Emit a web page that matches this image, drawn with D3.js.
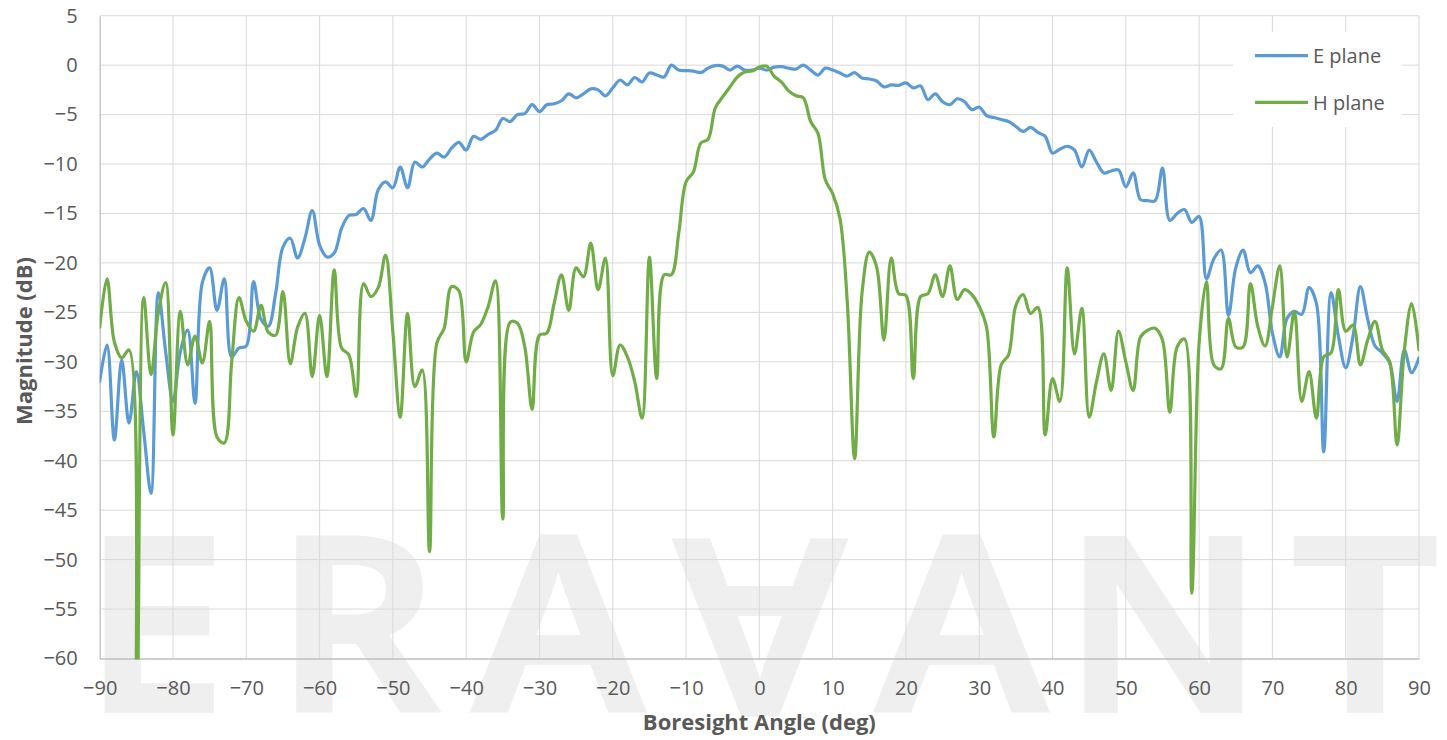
<!DOCTYPE html>
<html>
<head>
<meta charset="utf-8">
<script src="https://cdn.jsdelivr.net/npm/d3@7"></script>
<style>
  body { margin: 0; background: #fff; }
  svg { display: block; }
  text { font-family: 'Open Sans', 'DejaVu Sans', sans-serif; }
</style>
</head>
<body>
<svg class="pattern-chart"></svg>
<script>
// measured pattern, 1 deg steps from -90 to 90
const angles = d3.range(-90, 91, 1);

const ePlane = [
  -32.0, -28.3, -37.9, -29.8, -36.2, -31.0, -37.0, -43.3, -23.0, -29.0,
  -34.0, -29.0, -26.8, -34.2, -22.0, -20.5, -24.8, -21.6, -29.5, -28.6,
  -28.4, -21.9, -25.7, -26.4, -23.1, -18.4, -17.5, -19.5, -17.5, -14.7,
  -18.2, -19.4, -19.0, -16.5, -15.2, -15.1, -14.5, -15.7, -12.6, -11.8,
  -12.4, -10.3, -12.4, -9.8, -10.3, -9.5, -8.9, -9.3, -8.4, -7.8,
  -8.6, -7.2, -7.5, -7.0, -6.6, -5.4, -5.7, -5.0, -4.9, -4.0,
  -4.7, -4.0, -3.9, -3.6, -2.9, -3.3, -2.9, -2.4, -2.5, -3.1,
  -2.3, -1.5, -2.0, -1.25, -1.7, -0.8, -1.0, -1.2, 0.0, -0.5,
  -0.55, -0.6, -0.75, -0.3, -0.05, -0.1, -0.5, -0.1, -0.5, -0.5,
  -0.3, -0.5, -0.2, -0.15, -0.3, -0.4, 0.0, -0.5, -1.0, -0.3,
  -0.5, -0.8, -1.1, -0.75, -1.3, -1.4, -1.6, -2.2, -2.0, -2.05,
  -1.8, -2.3, -2.1, -3.5, -2.9, -3.7, -4.0, -3.4, -3.7, -4.5,
  -4.25, -5.1, -5.3, -5.5, -5.7, -6.2, -6.7, -6.3, -6.8, -7.2,
  -8.9, -8.5, -8.2, -8.6, -10.3, -8.6, -9.8, -10.9, -10.7, -10.6,
  -12.3, -10.9, -13.6, -13.7, -13.7, -10.4, -15.7, -15.0, -14.6, -15.9,
  -15.3, -21.6, -19.6, -18.7, -25.3, -20.5, -18.7, -21.0, -20.3, -22.0,
  -27.1, -29.5, -25.6, -24.9, -25.2, -22.5, -24.1, -39.1, -23.0, -27.4,
  -30.6, -27.4, -22.4, -25.7, -28.4, -29.1, -30.1, -34.0, -28.8, -31.1,
  -29.6
];

const hPlane = [
  -26.5, -21.6, -28.0, -29.6, -28.8, -70.0, -23.5, -31.3, -25.0, -22.0,
  -37.4, -24.9, -30.3, -27.4, -30.1, -25.9, -37.6, -38.2, -30.1, -23.5,
  -25.9, -26.9, -24.3, -27.0, -27.3, -22.9, -30.2, -26.5, -25.1, -31.5,
  -25.3, -31.5, -20.7, -28.6, -29.3, -33.5, -22.1, -23.4, -22.5, -19.2,
  -27.0, -35.6, -25.1, -32.5, -30.8, -49.2, -28.1, -26.6, -22.4, -22.8,
  -30.0, -27.0, -26.2, -24.4, -21.8, -45.9, -26.0, -26.1, -28.5, -34.8,
  -27.3, -27.1, -24.1, -21.2, -24.8, -20.5, -21.4, -18.0, -22.7, -19.5,
  -31.4, -28.3, -29.5, -32.0, -35.7, -19.4, -31.7, -21.2, -21.2, -17.0,
  -11.8, -10.8, -7.9, -7.5, -4.3, -3.2, -2.2, -1.2, -0.7, -0.6,
  -0.2, -0.1, -1.1, -1.7, -2.6, -3.1, -3.3, -5.7, -6.9, -11.6,
  -13.0, -15.5, -24.0, -39.8, -23.1, -18.9, -20.4, -27.8, -19.5, -23.1,
  -23.3, -31.7, -23.4, -23.1, -21.2, -23.4, -20.3, -23.7, -22.7, -23.2,
  -24.4, -26.5, -37.6, -30.3, -29.3, -24.3, -23.2, -25.1, -24.5, -37.4,
  -31.7, -34.0, -20.5, -29.2, -24.6, -35.6, -32.0, -29.2, -32.9, -26.9,
  -30.0, -32.9, -27.5, -26.8, -26.6, -27.8, -35.1, -28.5, -27.7, -53.4,
  -28.1, -21.9, -30.3, -30.7, -25.6, -28.5, -28.5, -22.1, -26.4, -28.4,
  -24.4, -20.3, -29.5, -24.9, -34.0, -31.0, -35.7, -29.5, -29.1, -22.7,
  -26.9, -26.3, -30.3, -27.8, -25.9, -28.8, -30.0, -38.4, -28.8, -24.1,
  -28.8
];

const xTicks = [-90, -80, -70, -60, -50, -40, -30, -20, -10, 0, 10, 20, 30, 40, 50, 60, 70, 80, 90];
const yTicks = [5, 0, -5, -10, -15, -20, -25, -30, -35, -40, -45, -50, -55, -60];
const seriesNames = ['E plane', 'H plane'];
const watermark = ['E', 'R', 'A', 'V', 'A', 'N', 'T'];

const dimensions = { width: 1447, height: 740 };
const margin = { top: 15.7, right: 28, bottom: 81.5, left: 99.7 };
const colors = { e: '#5b9bd5', h: '#70ad47', grid: '#d9d9d9', axis: '#bfbfbf', text: '#595959' };

const svg = d3.select('.pattern-chart')
  .attr('width', dimensions.width)
  .attr('height', dimensions.height);

const x = d3.scaleLinear()
  .domain([-90, 90])
  .range([margin.left, dimensions.width - margin.right]);

const y = d3.scaleLinear()
  .domain([-60, 5])
  .range([dimensions.height - margin.bottom, margin.top]);

// big faint logo behind the plot (the V is an upside-down A)
const wmX = d3.scalePoint().domain(d3.range(watermark.length)).range([155, 1365]);
svg.append('g')
  .attr('fill', '#efefef')
  .attr('stroke', '#efefef')
  .attr('stroke-width', 6)
  .selectAll('text')
  .data(watermark)
  .join('text')
  .attr('transform', (d, i) => i === 3
    ? `translate(${wmX(i)},${713 - 172}) rotate(180) scale(1.06,1)`
    : `translate(${wmX(i)},710) scale(1.06,1)`)
  .attr('text-anchor', 'middle')
  .attr('font-size', 240)
  .attr('font-weight', 600)
  .text((d, i) => (i === 3 ? 'A' : d));

// grid
svg.append('g')
  .attr('stroke', colors.grid)
  .selectAll('line')
  .data(xTicks.slice(1))
  .join('line')
  .attr('x1', (d) => x(d))
  .attr('x2', (d) => x(d))
  .attr('y1', y(5))
  .attr('y2', y(-60));

svg.append('g')
  .attr('stroke', colors.grid)
  .selectAll('line')
  .data(yTicks.slice(0, -1))
  .join('line')
  .attr('x1', x(-90))
  .attr('x2', x(90))
  .attr('y1', (d) => y(d))
  .attr('y2', (d) => y(d));

// axes
const xAxis = (g) => g
  .attr('transform', `translate(0,${y(-60)})`)
  .call(d3.axisBottom(x).tickValues(xTicks).tickSize(0).tickPadding(22))
  .call((g) => g.select('.domain').attr('stroke', colors.axis).attr('stroke-width', 1.3))
  .call((g) => g.selectAll('text').attr('fill', colors.text).attr('font-size', 20));

const yAxis = (g) => g
  .attr('transform', `translate(${x(-90)},0)`)
  .call(d3.axisLeft(y).tickValues(yTicks).tickSize(0).tickPadding(22))
  .call((g) => g.select('.domain').attr('stroke', colors.axis).attr('stroke-width', 1.3))
  .call((g) => g.selectAll('text').attr('fill', colors.text).attr('font-size', 20));

svg.append('g').call(xAxis);
svg.append('g').call(yAxis);

svg.append('text')
  .attr('x', x(0))
  .attr('y', 730)
  .attr('text-anchor', 'middle')
  .attr('font-size', 22)
  .attr('font-weight', 700)
  .attr('fill', colors.text)
  .text('Boresight Angle (deg)');

svg.append('text')
  .attr('transform', `translate(32,341) rotate(-90)`)
  .attr('text-anchor', 'middle')
  .attr('font-size', 22)
  .attr('font-weight', 700)
  .attr('fill', colors.text)
  .text('Magnitude (dB)');

// traces
svg.append('clipPath')
  .attr('id', 'plot-clip')
  .append('rect')
  .attr('x', x(-90))
  .attr('y', y(5) - 2)
  .attr('width', x(90) - x(-90))
  .attr('height', y(-60) - y(5) + 3);

const line = d3.line()
  .x((d, i) => x(angles[i]))
  .y((d) => y(d))
  .curve(d3.curveCatmullRom.alpha(0.5));

const traces = [
  { name: seriesNames[0], values: ePlane, color: colors.e },
  { name: seriesNames[1], values: hPlane, color: colors.h },
];

svg.append('g')
  .attr('clip-path', 'url(#plot-clip)')
  .attr('fill', 'none')
  .attr('stroke-width', 3.2)
  .attr('stroke-linejoin', 'round')
  .attr('stroke-linecap', 'round')
  .selectAll('path')
  .data(traces)
  .join('path')
  .attr('stroke', (d) => d.color)
  .attr('d', (d) => line(d.values));

// legend
const legend = svg.append('g');
legend.append('rect')
  .attr('x', 1233)
  .attr('y', 32)
  .attr('width', 169)
  .attr('height', 95)
  .attr('fill', '#fff');

const item = legend.selectAll('g')
  .data(traces)
  .join('g')
  .attr('transform', (d, i) => `translate(1255,${55.7 + i * 46.6})`);

item.append('line')
  .attr('x2', 53)
  .attr('stroke', (d) => d.color)
  .attr('stroke-width', 3.2);

item.append('text')
  .attr('x', 58)
  .attr('y', 7.5)
  .attr('font-size', 20)
  .attr('fill', colors.text)
  .text((d) => d.name);
</script>
</body>
</html>
